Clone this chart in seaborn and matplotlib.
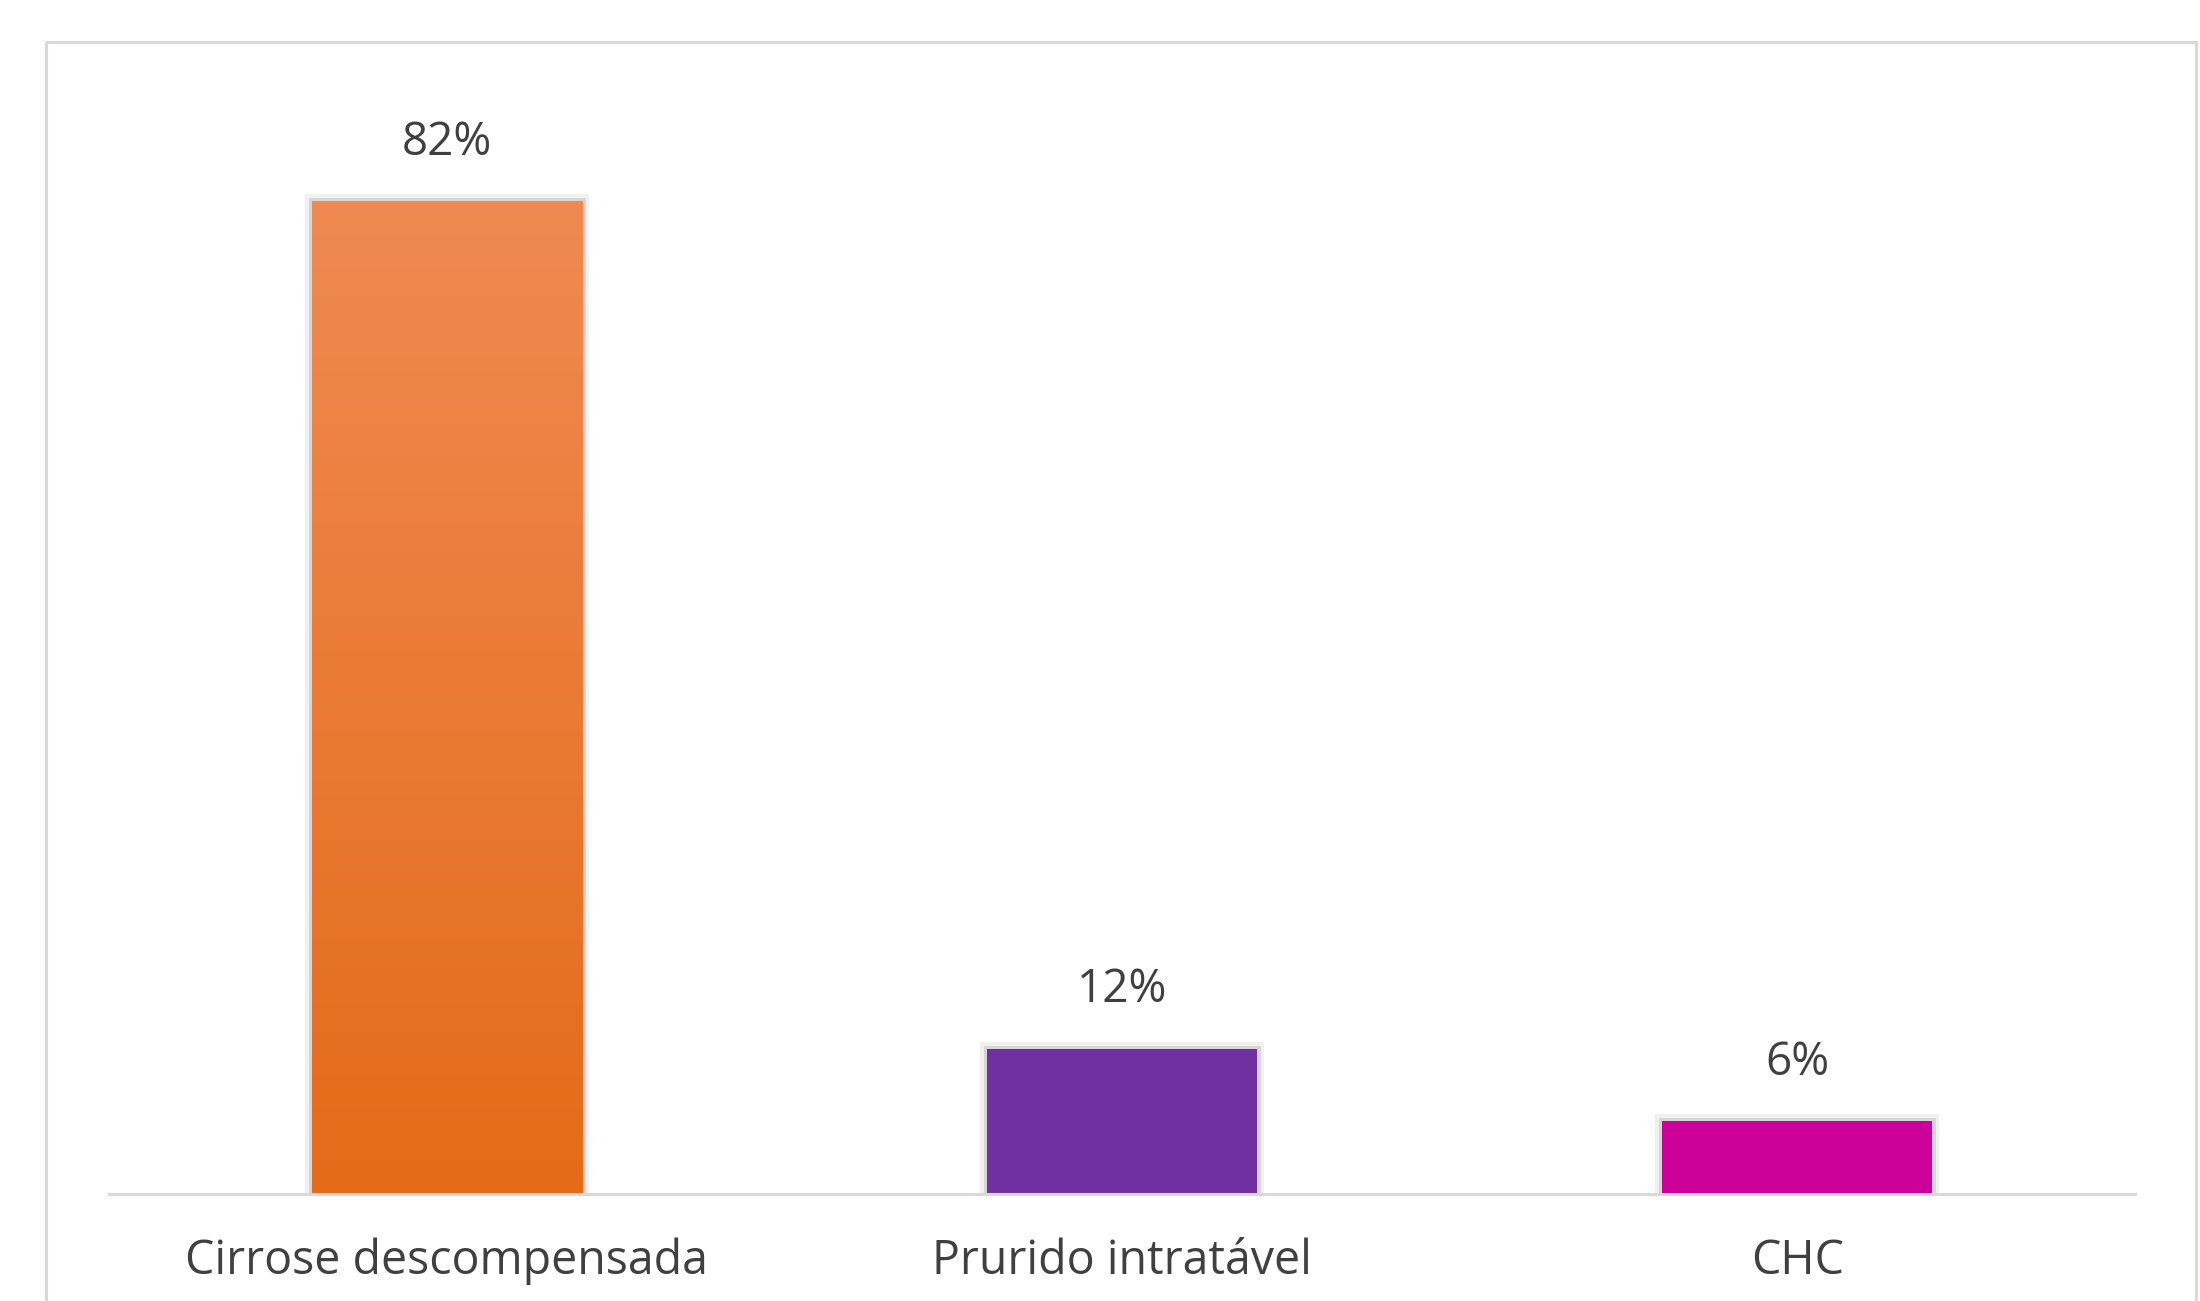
import numpy as np
import pandas as pd
import matplotlib
matplotlib.use('Agg')
import matplotlib.pyplot as plt
import matplotlib.patheffects as pe
from matplotlib.colors import LinearSegmentedColormap
from matplotlib.lines import Line2D
import seaborn as sns

# data
categories = ['Cirrose descompensada', 'Prurido intratável', 'CHC']
values = [82, 12, 6]
value_labels = ['82%', '12%', '6%']
bar_colors = ['#ee7a30', '#7030a0', '#cc0099']

df = pd.DataFrame({'cat': categories, 'val': values})

sns.set_style('white')
plt.rcParams['font.family'] = ['Open Sans', 'DejaVu Sans']

fig = plt.figure(figsize=(22, 13.01), dpi=100)
ax = fig.add_axes([109/2200, 1 - 1194/1301, (2135-109)/2200, (1194-104)/1301])

sns.barplot(data=df, x='cat', y='val', hue='cat', palette=bar_colors,
            width=0.4, legend=False, ax=ax, saturation=1)

# soft shadow round the bars
shadow = [pe.Stroke(linewidth=10, foreground='#f0f0f0'),
          pe.Stroke(linewidth=5, foreground='#d6d6d6'),
          pe.Normal()]
for p in ax.patches:
    p.set_path_effects(shadow)
    p.set_edgecolor('none')

# gradient fill for the first bar
b = ax.patches[0]
x0, y0 = b.get_x(), b.get_y()
w, h = b.get_width(), b.get_height()
grad = LinearSegmentedColormap.from_list('og', ['#e46b18', '#f08a52'])
img = ax.imshow(np.linspace(0, 1, 256).reshape(-1, 1), cmap=grad, origin='lower',
                extent=[x0, x0 + w, y0, y0 + h], aspect='auto', zorder=b.get_zorder() + 0.1)
img.set_clip_path(b)

for p, lab in zip(ax.patches, value_labels):
    ax.annotate(lab, (p.get_x() + p.get_width() / 2, p.get_height()),
                xytext=(0, 42), textcoords='offset points', ha='center', va='center',
                fontsize=33, color='#404040')

ax.set_xlim(-0.5, 2.5)
ax.set_ylim(0, 90)
ax.set_xlabel('')
ax.set_ylabel('')
ax.set_yticks([])
ax.tick_params(axis='x', length=0, pad=31, labelsize=33.5, colors='#404040')
for s in ['top', 'right', 'left']:
    ax.spines[s].set_visible(False)
ax.spines['bottom'].set_color('#d9d9d9')
ax.spines['bottom'].set_linewidth(2.2)

# outer frame (bottom edge falls outside the picture)
fx = lambda px: px / 2200
fy = lambda py: 1 - py / 1301
for xs, ys in [([46, 46], [42, 1301]), ([46, 2196], [42, 42]), ([2196, 2196], [42, 1301])]:
    fig.add_artist(Line2D([fx(v) for v in xs], [fy(v) for v in ys],
                          color='#d9d9d9', linewidth=2.2, transform=fig.transFigure))

fig.savefig('out.png', dpi=100)
